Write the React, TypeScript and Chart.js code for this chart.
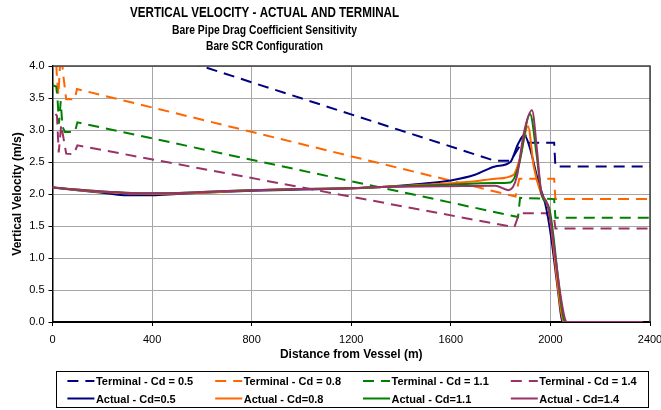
import React, { useEffect, useRef } from 'react';
import { Chart, registerables } from 'chart.js';

Chart.register(...registerables);

const FONT = '"Liberation Sans", Arial, Helvetica, sans-serif';

const TITLE = 'VERTICAL VELOCITY - ACTUAL AND TERMINAL';
const SUBTITLE_1 = 'Bare Pipe Drag Coefficient Sensitivity';
const SUBTITLE_2 = 'Bare SCR Configuration';
const X_TITLE = 'Distance from Vessel (m)';
const Y_TITLE = 'Vertical Velocity (m/s)';

const LABELS = [
  'Terminal - Cd = 0.5',
  'Terminal - Cd = 0.8',
  'Terminal - Cd = 1.1',
  'Terminal - Cd = 1.4',
  'Actual - Cd=0.5',
  'Actual - Cd=0.8',
  'Actual - Cd=1.1',
  'Actual - Cd=1.4',
];
const COLORS = ['#000080', '#FF6600', '#008000', '#993366'];

// Terminal velocities (dashed)
const TERM_05_X = [0, 1776, 1840, 1885, 1897, 1910, 2015, 2020, 2400];
const TERM_05_Y = [4.75, 2.52, 2.52, 2.8, 2.95, 2.8, 2.8, 2.43, 2.43];

const TERM_08_X = [12, 18, 24, 34, 42, 55, 90, 98, 1860, 1875, 2015, 2020, 2400];
const TERM_08_Y = [4.3, 3.8, 3.55, 4.3, 3.9, 3.48, 3.48, 3.64, 1.96, 2.24, 2.24, 1.92, 1.92];

const TERM_11_X = [0, 15, 20, 26, 33, 40, 50, 65, 90, 100, 1870, 1878, 2015, 2020, 2400];
const TERM_11_Y = [3.7, 3.68, 3.5, 3.1, 3.45, 3.05, 2.97, 2.97, 2.97, 3.12, 1.64, 1.94, 1.92, 1.63, 1.63];

const TERM_14_X = [12, 18, 25, 35, 55, 85, 100, 1855, 1875, 1985, 1995, 2015, 2020, 2400];
const TERM_14_Y = [3.25, 3.22, 2.65, 3.08, 2.63, 2.62, 2.76, 1.48, 1.7, 1.7, 1.62, 1.62, 1.46, 1.46];

// Actual velocities (solid)
const ACT_05_X = [0, 100, 200, 300, 400, 500, 600, 800, 1000, 1200, 1320, 1450, 1563, 1600, 1697, 1778, 1839, 1870, 1895, 1915, 1953, 1979, 2000, 2030, 2047, 2055, 2370];
const ACT_05_Y = [2.1, 2.06, 2.02, 1.98, 1.98, 2.0, 2.02, 2.05, 2.07, 2.09, 2.11, 2.15, 2.19, 2.21, 2.3, 2.43, 2.5, 2.78, 2.92, 2.75, 2.17, 1.85, 1.4, 0.5, 0.02, 0, 0];

const ACT_08_X = [0, 200, 400, 600, 800, 1000, 1200, 1320, 1563, 1700, 1778, 1852, 1879, 1910, 1933, 1962, 1993, 2050, 2058, 2370];
const ACT_08_Y = [2.1, 2.03, 2.0, 2.02, 2.06, 2.08, 2.09, 2.11, 2.16, 2.2, 2.24, 2.3, 2.58, 3.06, 2.43, 2.01, 1.75, 0.03, 0, 0];

const ACT_11_X = [0, 200, 400, 600, 800, 1000, 1200, 1320, 1563, 1778, 1839, 1872, 1918, 1945, 1965, 1995, 2055, 2063, 2370];
const ACT_11_Y = [2.1, 2.04, 2.01, 2.03, 2.06, 2.08, 2.09, 2.11, 2.14, 2.17, 2.18, 2.43, 3.25, 2.6, 1.98, 1.78, 0.03, 0, 0];

const ACT_14_X = [0, 200, 400, 600, 800, 1000, 1200, 1320, 1563, 1778, 1832, 1865, 1893, 1926, 1946, 1962, 1987, 2060, 2068, 2370];
const ACT_14_Y = [2.1, 2.04, 2.01, 2.03, 2.06, 2.08, 2.09, 2.11, 2.12, 2.13, 2.06, 2.27, 2.95, 3.31, 2.69, 2.06, 1.85, 0.03, 0, 0];

const X_MIN = 0;
const X_MAX = 2400;
const X_STEP = 400;
const Y_MIN = 0;
const Y_MAX = 4;
const Y_STEP = 0.5;

const zip = (xs: number[], ys: number[]) => xs.map((x, i) => ({ x, y: ys[i] }));

const SERIES = [
  zip(TERM_05_X, TERM_05_Y),
  zip(TERM_08_X, TERM_08_Y),
  zip(TERM_11_X, TERM_11_Y),
  zip(TERM_14_X, TERM_14_Y),
  zip(ACT_05_X, ACT_05_Y),
  zip(ACT_08_X, ACT_08_Y),
  zip(ACT_11_X, ACT_11_Y),
  zip(ACT_14_X, ACT_14_Y),
];

const DASH = [11, 7];

function drawFitted(ctx: CanvasRenderingContext2D, text: string, cx: number, baseline: number, font: string, width: number) {
  ctx.save();
  ctx.font = font;
  ctx.textAlign = 'center';
  ctx.textBaseline = 'alphabetic';
  const w = ctx.measureText(text).width;
  const sx = w > 0 ? width / w : 1;
  ctx.translate(cx, baseline);
  ctx.scale(sx, 1);
  ctx.fillStyle = '#000';
  ctx.fillText(text, 0, 0);
  ctx.restore();
}

const decorPlugin = {
  id: 'decor',
  afterDraw(chart: any) {
    const { ctx, chartArea: a } = chart;
    ctx.save();
    // plot area border top & right
    ctx.strokeStyle = '#404040';
    ctx.lineWidth = 1.5;
    ctx.setLineDash([]);
    ctx.beginPath();
    ctx.moveTo(a.left, a.top);
    ctx.lineTo(a.right, a.top);
    ctx.lineTo(a.right, a.bottom);
    ctx.stroke();

    // titles
    drawFitted(ctx, TITLE, 264.5, 17.3, `bold 15px ${FONT}`, 269);
    drawFitted(ctx, SUBTITLE_1, 264.5, 33.8, `bold 12px ${FONT}`, 185);
    drawFitted(ctx, SUBTITLE_2, 264.5, 49.5, `bold 12px ${FONT}`, 117);

    // legend
    const boxX = 56, boxY = 371, boxW = 592, boxH = 36;
    ctx.strokeStyle = '#000';
    ctx.lineWidth = 1;
    ctx.strokeRect(boxX + 0.5, boxY + 0.5, boxW, boxH);
    const colX0 = 67.4;
    const colStep = 147.8;
    const rowY = [381, 398.5];
    const symLen = 27;
    ctx.font = `bold 11px ${FONT}`;
    ctx.textBaseline = 'middle';
    ctx.textAlign = 'left';
    chart.data.datasets.forEach((ds: any, i: number) => {
      const col = i % 4;
      const row = Math.floor(i / 4);
      const x = colX0 + col * colStep;
      const y = rowY[row];
      ctx.save();
      ctx.strokeStyle = ds.borderColor;
      ctx.lineWidth = 2;
      ctx.setLineDash(ds.borderDash || []);
      ctx.beginPath();
      ctx.moveTo(x, y);
      ctx.lineTo(x + symLen, y);
      ctx.stroke();
      ctx.restore();
      ctx.fillStyle = '#000';
      ctx.fillText(ds.label, x + symLen + 1.5, y + 1);
    });
    ctx.restore();
  },
};

export default function App() {
  const ref = useRef<HTMLCanvasElement | null>(null);

  useEffect(() => {
    if (!ref.current) return;
    const datasets = SERIES.map((data, i) => {
      const terminal = i < 4;
      const color = COLORS[i % 4];
      return {
        label: LABELS[i],
        data,
        borderColor: color,
        backgroundColor: color,
        borderWidth: 2,
        borderDash: terminal ? DASH : [],
        pointRadius: 0,
        pointHoverRadius: 0,
        fill: false,
        tension: 0,
        cubicInterpolationMode: terminal ? 'default' : 'monotone',
        order: terminal ? 8 - i : 7 - i,
      };
    });

    const chart = new Chart(ref.current, {
      type: 'line',
      data: { datasets } as any,
      options: {
        animation: false,
        responsive: false,
        maintainAspectRatio: false,
        devicePixelRatio: 1,
        layout: { padding: { top: 66, left: 0, right: 11, bottom: 48 } },
        plugins: {
          legend: { display: false },
          title: { display: false },
          tooltip: { enabled: false },
        },
        scales: {
          x: {
            type: 'linear',
            min: X_MIN,
            max: X_MAX,
            afterFit: (scale: any) => {
              scale.height = 40;
              scale.paddingLeft = 0;
              scale.paddingRight = 0;
            },
            ticks: {
              stepSize: X_STEP,
              color: '#000',
              padding: 7,
              maxRotation: 0,
              autoSkip: false,
              font: { family: FONT, size: 11 },
              callback: (v: any) => String(v),
            },
            grid: {
              color: '#a6a6a6',
              lineWidth: 1,
              tickLength: 4,
              tickColor: '#000',
            },
            border: { color: '#000', width: 2 },
            title: {
              display: true,
              text: X_TITLE,
              color: '#000',
              font: { family: FONT, size: 12, weight: 'bold' },
              padding: { top: 0, bottom: 0 },
            },
          },
          y: {
            type: 'linear',
            min: Y_MIN,
            max: Y_MAX,
            afterFit: (scale: any) => {
              scale.width = 52.5;
            },
            ticks: {
              stepSize: Y_STEP,
              color: '#000',
              padding: 4,
              font: { family: FONT, size: 11 },
              callback: (v: any) => Number(v).toFixed(1),
            },
            grid: {
              color: '#a6a6a6',
              lineWidth: 1,
              tickLength: 4,
              tickColor: '#000',
            },
            border: { color: '#000', width: 1.5 },
            title: {
              display: true,
              text: Y_TITLE,
              color: '#000',
              font: { family: FONT, size: 12, weight: 'bold' },
              padding: { top: 10, bottom: 0 },
            },
          },
        },
      } as any,
      plugins: [decorPlugin],
    });
    return () => chart.destroy();
  }, []);

  return (
    <div style={{ position: 'fixed', left: 0, top: 0, width: 661, height: 410, background: '#fff' }}>
      <canvas ref={ref} width={661} height={410} style={{ display: 'block', width: 661, height: 410 }} />
    </div>
  );
}
